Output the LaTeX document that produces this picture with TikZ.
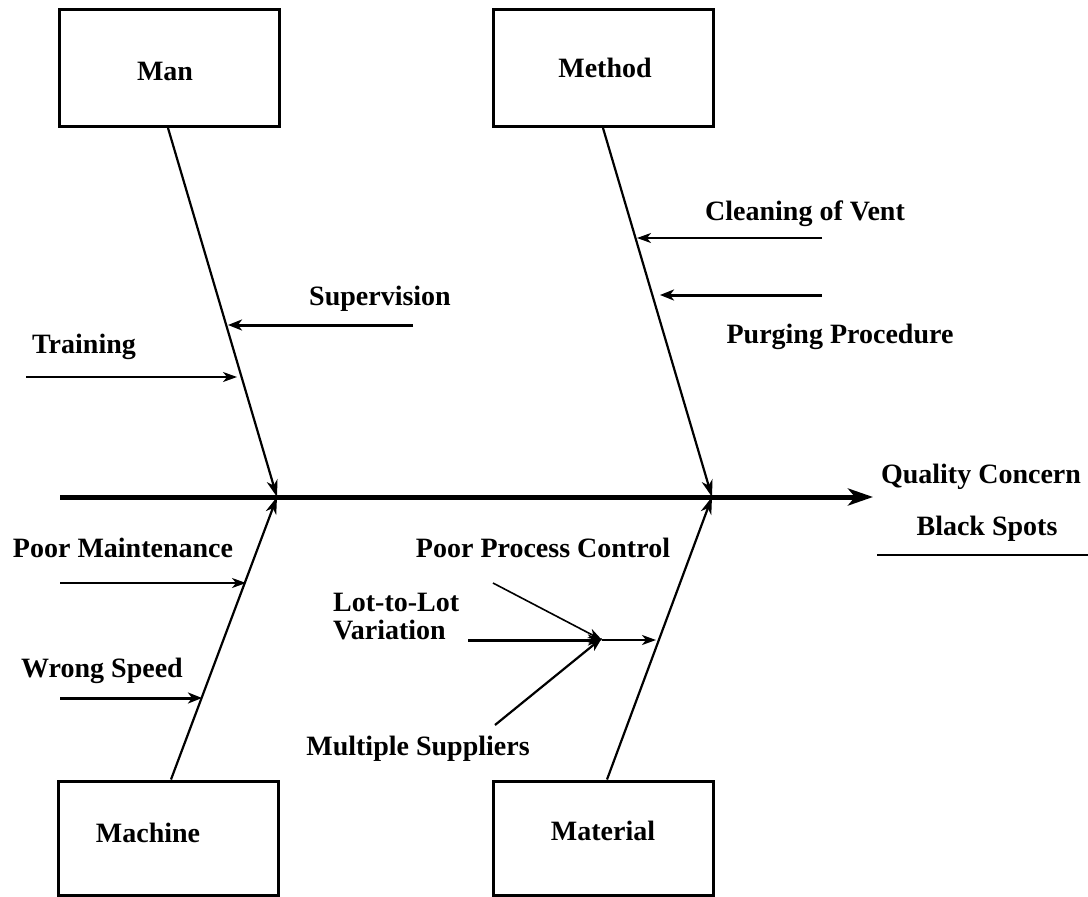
\documentclass[tikz,border=0pt]{standalone}
\usepackage{fontspec}
\setmainfont{Liberation Serif}
\usetikzlibrary{arrows.meta}
\begin{document}
\begin{tikzpicture}[x=1pt,y=-1pt,
  catbox/.style={draw, line width=3pt, minimum width=220pt, minimum height=117pt, inner sep=0pt},
  lbl/.style={font=\fontsize{28}{30}\selectfont\bfseries, inner sep=0pt, anchor=base},
  bone/.style={line width=2.2pt, -{Stealth[length=17pt,width=11pt,inset=5pt]}},
  cause/.style={line width=1.6pt, -{Stealth[length=14pt,width=10pt,inset=4pt]}},
  heavycause/.style={line width=3pt, -{Stealth[length=14pt,width=11pt,inset=4pt]}},
  spine/.style={line width=5pt, -{Stealth[length=25pt,width=17pt,inset=7pt]}},
]
\useasboundingbox[fill=white] (0,0) rectangle (1088,897);

% category boxes and their titles
\node[catbox] (man)      at (169,68)    {};
\node[catbox] (method)   at (603,68)    {};
\node[catbox, minimum height=114pt] (machine)  at (168.5,838) {};
\node[catbox, minimum height=114pt] (material) at (603.5,838) {};
\node[lbl] (manT)      at (165,80)  {Man};
\node[lbl] (methodT)   at (605,77)  {Method};
\node[lbl] (machineT)  at (148,842) {Machine};
\node[lbl] (materialT) at (603,840) {Material};

% main spine
\coordinate (tail) at (60,497);
\coordinate (head) at (873,497);
\coordinate (j1) at (277,497);
\coordinate (j2) at (712,497);
\draw[spine] (tail) -- (head);

% bones
\draw[bone] ([xshift=-1pt]man.south) -- (j1);
\draw[bone] (method.south) -- (j2);
\draw[bone] ([xshift=2.5pt]machine.north) -- (j1);
\draw[bone] ([xshift=3.5pt]material.north) -- (j2);

% effect
\node[lbl] (effect) at (981,483) {Quality Concern};
\node[lbl] (spots) at (987,535) {Black Spots};
\coordinate (ul1) at (877,555);
\coordinate (ul2) at (1088,555);
\draw[line width=2pt] (ul1) -- (ul2);

% Man causes
\coordinate (supS) at (413,325); \coordinate (supT) at (228,325);
\coordinate (trnS) at (26,377);  \coordinate (trnT) at (237,377);
\draw[heavycause] (supS) -- (supT);
\draw[cause] (trnS) -- (trnT);
\node[lbl] (sup) at (380,305) {Supervision};
\node[lbl] (trn) at (84,353) {Training};

% Method causes
\coordinate (clnS) at (822,238); \coordinate (clnT) at (637,238);
\coordinate (prgS) at (822,295); \coordinate (prgT) at (660,295);
\draw[cause] (clnS) -- (clnT);
\draw[heavycause] (prgS) -- (prgT);
\node[lbl] (cln) at (805,220) {Cleaning of Vent};
\node[lbl] (prg) at (840,343) {Purging Procedure};

% Machine causes
\coordinate (pmS) at (60,583); \coordinate (pmT) at (246,583);
\coordinate (wsS) at (60,698); \coordinate (wsT) at (202,698);
\draw[cause] (pmS) -- (pmT);
\draw[heavycause] (wsS) -- (wsT);
\node[lbl] (pm) at (123,557) {Poor Maintenance};
\node[lbl] (ws) at (102,677) {Wrong Speed};

% Material causes
\coordinate (lotS) at (468,640);
\coordinate (lotJ) at (602,640);
\coordinate (lotT) at (656,640);
\coordinate (ppcS) at (493,583);
\coordinate (msS) at (495,725);
\draw[heavycause] (lotS) -- (lotJ);
\draw[cause] (ppcS) -- (lotJ);
\draw[line width=2.2pt, -{Stealth[length=14pt,width=10pt,inset=4pt]}] (msS) -- ([yshift=2pt]lotJ);
\draw[line width=2.2pt, -{Stealth[length=14pt,width=10pt,inset=4pt]}] (lotJ) -- (lotT);
\node[lbl] (ppc) at (543,557) {Poor Process Control};
\node[lbl, anchor=north west, align=left, font=\fontsize{28}{28}\selectfont\bfseries]
  (lot) at (333,593) {Lot-to-Lot\\Variation};
\node[lbl] (ms) at (418,755) {Multiple Suppliers};
\end{tikzpicture}
\end{document}
